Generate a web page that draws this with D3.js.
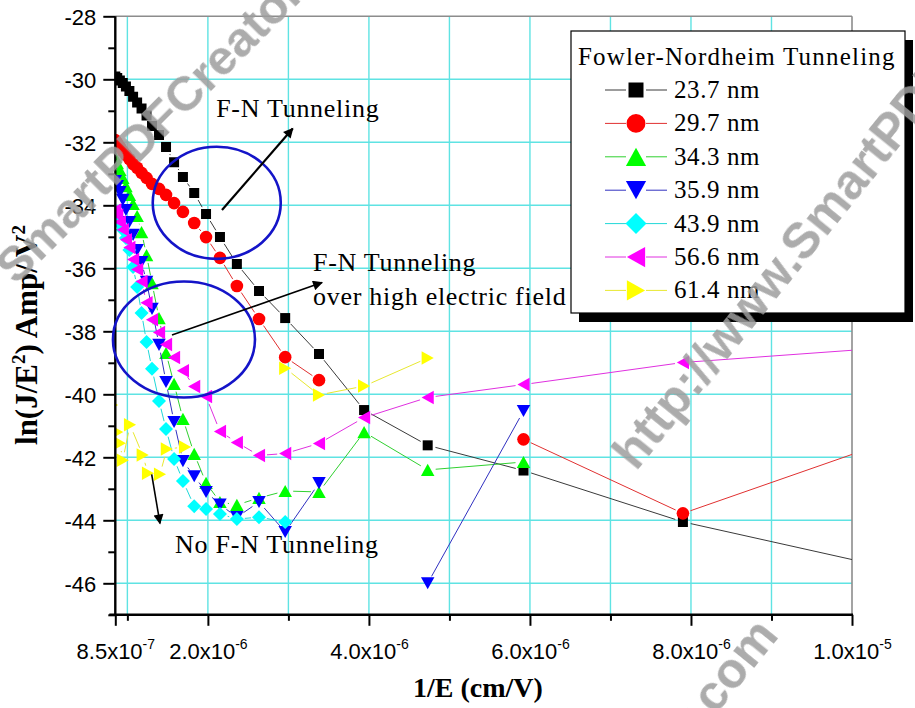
<!DOCTYPE html>
<html><head><meta charset="utf-8">
<script src="https://cdn.jsdelivr.net/npm/d3@7"></script>
<style>body{margin:0;background:#fff;} svg{display:block;}</style>
</head><body>
<svg id="chart" width="915" height="708"></svg>
<script>
// 1/E values in units of 1e-6 cm/V
const xInv = [0.85,0.874,0.907,0.943,0.982,1.025,1.071,1.121,1.176,1.238,1.306,1.393,1.48,1.58,1.69,1.83,1.977,2.15,2.36,2.635,2.96,3.38,3.94,4.73,5.92,7.90,11.85];
const thickness = ["23.7 nm","29.7 nm","34.3 nm","35.9 nm","43.9 nm","56.6 nm","61.4 nm"];
const s237 = [-29.91,-29.96,-30.04,-30.12,-30.23,-30.37,-30.55,-30.74,-30.93,-31.15,-31.48,-31.77,-32.15,-32.63,-33.10,-33.61,-34.28,-35.01,-35.86,-36.72,-37.58,-38.72,-40.50,-41.62,-42.42,-44.05,-46.30];
const s297 = [-31.93,-32.02,-32.15,-32.28,-32.40,-32.53,-32.69,-32.81,-32.97,-33.13,-33.32,-33.48,-33.67,-33.93,-34.21,-34.56,-35.01,-35.67,-36.56,-37.61,-38.82,-39.55,null,null,-41.43,-43.78,-40.26];
const s343 = [-32.47,-32.66,-32.88,-33.13,-33.39,-33.67,-33.96,-34.34,-34.85,-35.58,-36.47,-37.58,-38.69,-39.67,-40.78,-41.89,-42.81,-43.42,-43.51,-43.29,-43.07,-43.10,-41.20,-42.40,-42.15,null,null];
const s359 = [-33.23,-33.39,-33.58,-33.83,-34.15,-34.53,-34.94,-35.42,-35.80,-36.43,-37.29,-38.43,-39.61,-40.88,-42.12,-42.60,-43.10,-43.50,-43.90,-43.42,-44.37,-42.82,null,-46.00,-40.53,null,null];
const s439 = [-34.28,-34.40,-34.59,-34.78,-35.04,-35.42,-35.96,-36.59,-37.42,-38.34,-39.19,-40.21,-41.10,-42.05,-42.75,-43.55,-43.64,-43.80,-43.96,-43.90,-44.05,null,null,null,null,null,null];
const s566 = [-34.15,-34.31,-34.53,-34.78,-35.09,-35.34,-35.72,-36.04,-36.42,-37.09,-37.63,-38.04,-38.42,-38.83,-39.25,-39.75,-40.07,-41.18,-41.53,-41.94,-41.88,-41.56,-40.74,-40.10,-39.69,-38.99,-38.26];
const xInv614 = [0.79,0.81,0.874,0.907,0.943,1.033,1.19,1.256,1.405,1.49,1.716,null,2.96,3.38,3.94,4.73];
const s614 = [-39.77,-40.34,-41.20,-41.55,-42.09,-40.97,-41.93,-42.51,-42.54,-41.74,-41.67,null,-39.17,-40.02,-39.74,-38.85];

const xTickVals = [0.85,2,4,6,8,10];
const xTickMant = ["8.5x10","2.0x10","4.0x10","6.0x10","8.0x10","1.0x10"];
const xTickExp = ["-7","-6","-6","-6","-6","-5"];
const xMinor = [1,3,5,7,9];
const xGrid = [1,2,3,4,5,6,7,8,9];
const yTickVals = [-28,-30,-32,-34,-36,-38,-40,-42,-44,-46];
const yMinor = [-29,-31,-33,-35,-37,-39,-41,-43,-45,-47];
const yGrid = [-30,-32,-34,-36,-38,-40,-42,-44,-46];

const ellipses = [{cx:2.11,cy:-33.92,rx:0.795,ry:1.78},{cx:1.703,cy:-38.26,rx:0.882,ry:1.84}];
const arrows = [{x1:2.175,y1:-34.15,x2:3.054,y2:-31.56,w:2.2},{x1:1.554,y1:-38.12,x2:3.418,y2:-36.45,w:1.6},{x1:1.302,y1:-42.54,x2:1.405,y2:-44.10,w:1.6}];
const notes = [{x:2.103,y:-31.19,lines:["F-N Tunneling"]},{x:3.306,y:-36.10,lines:["F-N Tunneling","over high electric field"]},{x:1.592,y:-45.04,lines:["No F-N Tunneling"]}];

const series = [
  {name:thickness[0], xs:xInv, vs:s237, fill:"#000000", line:"#3a3a3a", sym:"square", size:10},
  {name:thickness[1], xs:xInv, vs:s297, fill:"#ff0000", line:"#e03030", sym:"circle", size:12.6},
  {name:thickness[2], xs:xInv, vs:s343, fill:"#00ff00", line:"#30d030", sym:"up", size:13.5},
  {name:thickness[3], xs:xInv, vs:s359, fill:"#0000ff", line:"#3030c0", sym:"down", size:13.5},
  {name:thickness[4], xs:xInv, vs:s439, fill:"#00ffff", line:"#20d8d8", sym:"diamond", size:14},
  {name:thickness[5], xs:xInv, vs:s566, fill:"#ff00ff", line:"#e030e0", sym:"left", size:13.5},
  {name:thickness[6], xs:xInv614, vs:s614, fill:"#ffff00", line:"#e8e830", sym:"right", size:13.5}
];

const svg = d3.select("#chart");
const x = d3.scaleLinear().domain([0.85,10]).range([115.3,852]);
const y = d3.scaleLinear().domain([-47,-28]).range([614.8,16.3]);
const X0 = x(0.85), X1 = x(10), Y0 = y(-47), Y1 = y(-28);

svg.append("rect").attr("width",915).attr("height",708).attr("fill","#fff");

svg.append("defs").append("clipPath").attr("id","plotclip")
  .append("rect").attr("x",X0).attr("y",Y1).attr("width",X1-X0).attr("height",Y0-Y1);
const mk = svg.select("defs").append("marker").attr("id","ah").attr("viewBox","0 0 10 10")
  .attr("refX",9).attr("refY",5).attr("markerUnits","userSpaceOnUse")
  .attr("markerWidth",13).attr("markerHeight",10).attr("orient","auto");
mk.append("path").attr("d","M0,0L10,5L0,10Z").attr("fill","#000");

// grid
const grid = svg.append("g");
grid.selectAll(".gx").data(xGrid).join("line").attr("x1",d=>x(d)).attr("x2",d=>x(d)).attr("y1",Y1).attr("y2",Y0)
  .attr("stroke","#5fe3e3").attr("stroke-width",1.4);
grid.selectAll(".gy").data(yGrid).join("line").attr("y1",d=>y(d)).attr("y2",d=>y(d)).attr("x1",X0).attr("x2",X1)
  .attr("stroke","#5fe3e3").attr("stroke-width",1.4);
svg.append("line").attr("x1",X0).attr("x2",X1).attr("y1",Y1).attr("y2",Y1).attr("stroke","#8c8c8c").attr("stroke-width",1.6);
svg.append("line").attr("x1",X1).attr("x2",X1).attr("y1",Y1).attr("y2",Y0).attr("stroke","#8c8c8c").attr("stroke-width",1.6);

function symPath(type,s){const h=s/2, t=s*0.45;
  switch(type){
    case "square": return `M${-h},${-h}H${h}V${h}H${-h}Z`;
    case "circle": return `M${h},0A${h},${h} 0 1,1 ${-h},0A${h},${h} 0 1,1 ${h},0Z`;
    case "up": return `M0,${-t}L${h},${t}L${-h},${t}Z`;
    case "down": return `M0,${t}L${h},${-t}L${-h},${-t}Z`;
    case "left": return `M${-t},0L${t},${-h}L${t},${h}Z`;
    case "right": return `M${t},0L${-t},${-h}L${-t},${h}Z`;
    case "diamond": return `M0,${-h}L${h},0L0,${h}L${-h},0Z`;
  }}

function gapSegs(pts,g){const out=[];
  for(let i=0;i<pts.length-1;i++){const a=pts[i],b=pts[i+1]; if(!a||!b) continue;
    const dx=b[0]-a[0],dy=b[1]-a[1],L=Math.hypot(dx,dy); if(L<=2*g) continue;
    const ux=dx/L,uy=dy/L; out.push([a[0]+ux*g,a[1]+uy*g,b[0]-ux*g,b[1]-uy*g]);}
  return out;}

const plot = svg.append("g").attr("clip-path","url(#plotclip)");
series.forEach(s=>{
  const pts = s.xs.map((u,i)=> (u==null||s.vs[i]==null)?null:[x(u),y(s.vs[i])]);
  const g = plot.append("g");
  g.selectAll("line").data(gapSegs(pts,8)).join("line")
    .attr("x1",d=>d[0]).attr("y1",d=>d[1]).attr("x2",d=>d[2]).attr("y2",d=>d[3])
    .attr("stroke",s.line).attr("stroke-width",1);
  g.selectAll("path").data(pts.filter(p=>p)).join("path")
    .attr("d",symPath(s.sym,s.size)).attr("transform",d=>`translate(${d[0]},${d[1]})`)
    .attr("fill",s.fill);
});

// axes
const axFont = "'Liberation Sans', Arial, sans-serif";
const yAx = svg.append("g").attr("transform",`translate(${X0},0)`)
  .call(d3.axisLeft(y).tickValues(yTickVals).tickSize(12).tickSizeOuter(0).tickPadding(7).tickFormat(d=>String(d)));
yAx.select(".domain").remove();
yAx.selectAll(".tick line").attr("stroke","#000").attr("stroke-width",2);
yAx.selectAll(".tick text").attr("font-family",axFont).attr("font-size",22).attr("fill","#000").attr("dy","0.36em");
const yAxm = svg.append("g").attr("transform",`translate(${X0},0)`)
  .call(d3.axisLeft(y).tickValues(yMinor).tickSize(7).tickSizeOuter(0).tickFormat(""));
yAxm.select(".domain").remove();
yAxm.selectAll(".tick line").attr("stroke","#000").attr("stroke-width",2);

const xAx = svg.append("g").attr("transform",`translate(0,${Y0})`)
  .call(d3.axisBottom(x).tickValues(xTickVals).tickSize(11).tickSizeOuter(0).tickFormat(""));
xAx.select(".domain").remove();
xAx.selectAll(".tick line").attr("stroke","#000").attr("stroke-width",2);
xAx.selectAll(".tick").append("text").attr("y",44).attr("text-anchor","middle")
  .attr("font-family",axFont).attr("font-size",22).attr("fill","#000")
  .each(function(d,i){const t=d3.select(this);
    t.append("tspan").text(xTickMant[i]);
    t.append("tspan").attr("font-size",14).attr("dy",-10).text(xTickExp[i]);});
const xAxm = svg.append("g").attr("transform",`translate(0,${Y0})`)
  .call(d3.axisBottom(x).tickValues(xMinor).tickSize(6).tickSizeOuter(0).tickFormat(""));
xAxm.select(".domain").remove();
xAxm.selectAll(".tick line").attr("stroke","#000").attr("stroke-width",2);

svg.append("line").attr("x1",X0).attr("x2",X0).attr("y1",Y1).attr("y2",Y0+1).attr("stroke","#000").attr("stroke-width",2.4);
svg.append("line").attr("x1",X0-6).attr("x2",X1+1).attr("y1",Y0).attr("y2",Y0).attr("stroke","#000").attr("stroke-width",2.4);

// axis titles
const serif = "'Liberation Serif','Times New Roman',serif";
svg.append("text").attr("x",478).attr("y",697).attr("text-anchor","middle")
  .attr("font-family",serif).attr("font-weight","bold").attr("font-size",28).text("1/E (cm/V)");
const yt = svg.append("text").attr("transform","translate(37,335) rotate(-90)").attr("text-anchor","middle")
  .attr("font-family",serif).attr("font-weight","bold").attr("font-size",31);
yt.append("tspan").text("ln(J/E");
yt.append("tspan").attr("font-size",19).attr("dy",-12).text("2");
yt.append("tspan").attr("dy",12).text(") Amp/ V");
yt.append("tspan").attr("font-size",19).attr("dy",-12).text("2");

// annotations
const ann = svg.append("g");
ellipses.forEach(e=>{
  ann.append("ellipse").attr("cx",x(e.cx)).attr("cy",y(e.cy))
    .attr("rx",x(e.cx+e.rx)-x(e.cx)).attr("ry",y(e.cy-e.ry)-y(e.cy))
    .attr("fill","none").attr("stroke","#1414c8").attr("stroke-width",2.6);
});
arrows.forEach(a=>{
  ann.append("line").attr("x1",x(a.x1)).attr("y1",y(a.y1)).attr("x2",x(a.x2)).attr("y2",y(a.y2))
    .attr("stroke","#000").attr("stroke-width",a.w).attr("marker-end","url(#ah)");
});
notes.forEach(n=>{
  const t = ann.append("text").attr("font-family",serif).attr("font-size",26).attr("letter-spacing",0.72).attr("fill","#000");
  n.lines.forEach((l,i)=>t.append("tspan").attr("x",x(n.x)).attr("y",y(n.y)+i*33.5).text(l));
});

// legend
const lg = svg.append("g");
const LX=571, LY=31, LW=334, LH=282;
lg.append("rect").attr("x",LX+8).attr("y",LY+9).attr("width",LW).attr("height",LH).attr("fill","#000");
lg.append("rect").attr("x",LX).attr("y",LY).attr("width",LW).attr("height",LH).attr("fill","#fff").attr("stroke","#000").attr("stroke-width",1.2);
lg.append("text").attr("x",LX+7).attr("y",LY+34).attr("font-family",serif).attr("font-size",25).attr("letter-spacing",1.2).text("Fowler-Nordheim Tunneling");
series.forEach((s,i)=>{
  const cy = LY+59+i*33.4, cx = LX+65;
  lg.append("line").attr("x1",cx-31).attr("x2",cx-10).attr("y1",cy).attr("y2",cy).attr("stroke",s.line).attr("stroke-width",1);
  lg.append("line").attr("x1",cx+10).attr("x2",cx+31).attr("y1",cy).attr("y2",cy).attr("stroke",s.line).attr("stroke-width",1);
  lg.append("path").attr("d",symPath(s.sym,s.size*1.5)).attr("transform",`translate(${cx},${cy})`).attr("fill",s.fill);
  lg.append("text").attr("x",LX+103).attr("y",cy+8).attr("font-family",serif).attr("font-size",25).attr("letter-spacing",0.6).text(s.name);
});

// watermark
const wm = svg.append("g").attr("fill","#9e9e9e").attr("opacity",0.85)
  .attr("font-family",axFont).attr("font-weight","bold");
wm.append("text").attr("transform","translate(16,286) rotate(-45)").attr("font-size",49).text("SmartPDFCreator");
wm.append("text").attr("transform","translate(636,472) rotate(-51)").attr("font-size",50).text("http://www.SmartPDFCreator.com");
wm.append("text").attr("transform","translate(780,636) rotate(-51)").attr("text-anchor","end").attr("font-size",50).text("http://www.SmartPDFCreator.com");
</script>
</body></html>
